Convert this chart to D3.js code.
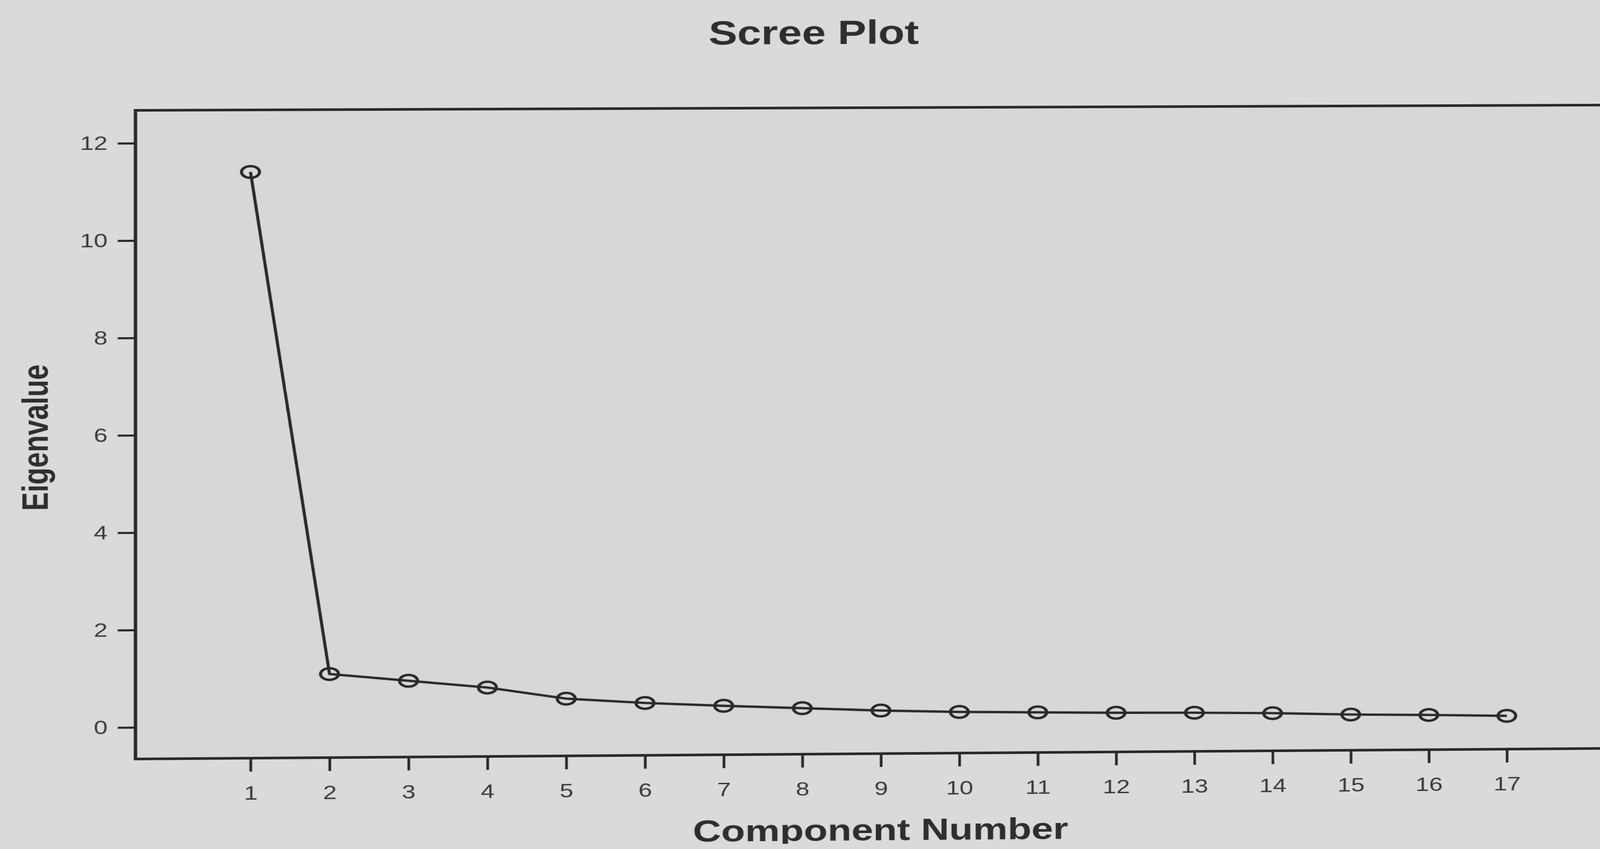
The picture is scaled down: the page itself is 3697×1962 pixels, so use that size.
<!DOCTYPE html>
<html>
<head>
<meta charset="utf-8">
<title>Scree Plot</title>
<script src="https://cdn.jsdelivr.net/npm/d3@7"></script>
<style>
    html, body {
        margin: 0;
        padding: 0;
        background: #dadada;
        overflow: hidden;
    }

    /* The source is a photo of a printout: stretched sideways and seen at a slight angle */
    #chart svg {
        display: block;
        transform-origin: 0 0;
        transform: translateX(313px) matrix3d(1, -0.00299, 0, 0.0000024, 0, 1, 0, 0, 0, 0, 1, 0, 0, 0, 0, 1) translateX(-313px) scaleX(1.3);
    }
</style>
</head>
<body>
<div id="chart"></div>
<script>

const components = [1, 2, 3, 4, 5, 6, 7, 8, 9, 10, 11, 12, 13, 14, 15, 16, 17];
const eigenvalues = [11.40, 1.07, 0.92, 0.77, 0.53, 0.43, 0.36, 0.30, 0.24, 0.20, 0.18, 0.16, 0.15, 0.13, 0.09, 0.07, 0.04];
const yTicks = [0, 2, 4, 6, 8, 10, 12];

const chartTitle = "Scree Plot";
const xTitle = "Component Number";
const yTitle = "Eigenvalue";

class ScreePlot {
    constructor() {
        // horizontal sizes are divided by the sideways stretch done in css
        this.stretch = 1.3;
        this.width = 3000;
        this.height = 1962;

        this.left = 313 / this.stretch;
        this.right = 3000;
        this.top = 255;
        this.bottom = 1754;

        this.ink = "#292929";
        this.font = "'Liberation Sans', Arial, Helvetica, sans-serif";

        this.x = d3.scaleLinear()
            .domain([1, 17])
            .range([579 / this.stretch, 3506 / this.stretch]);

        this.y = d3.scaleLinear()
            .domain([0, 12])
            .range([1681, 331]);
    }

    draw() {
        const that = this;

        const svg = d3.select("#chart")
            .append("svg")
            .attr("width", this.width)
            .attr("height", this.height);

        // Plot frame
        svg.append("rect")
            .attr("x", this.left)
            .attr("y", this.top)
            .attr("width", this.right - this.left)
            .attr("height", this.bottom - this.top)
            .attr("fill", "#d7d7d7")
            .attr("stroke", this.ink)
            .attr("stroke-width", 6);

        // X axis (ticks and labels only, the frame draws the line)
        const xAxis = svg.append("g")
            .attr("transform", `translate(0, ${this.bottom})`)
            .call(d3.axisBottom(this.x)
                .tickValues(components)
                .tickFormat(d3.format("d"))
                .tickSize(31)
                .tickSizeOuter(0)
                .tickPadding(34));

        // Y axis
        const yAxis = svg.append("g")
            .attr("transform", `translate(${this.left}, 0)`)
            .call(d3.axisLeft(this.y)
                .tickValues(yTicks)
                .tickFormat(d3.format("d"))
                .tickSize(31.5)
                .tickSizeOuter(0)
                .tickPadding(18));

        [xAxis, yAxis].forEach(axis => {
            axis.select(".domain").remove();
            axis.selectAll(".tick line")
                .attr("stroke", that.ink)
                .attr("stroke-width", 4.8);
            axis.selectAll(".tick text")
                .attr("fill", "#3a3a3a")
                .attr("font-family", that.font)
                .attr("font-size", 44);
        });

        const points = components.map((c, i) => ({ c: c, v: eigenvalues[i] }));

        // Line through the eigenvalues
        const line = d3.line()
            .x(d => this.x(d.c))
            .y(d => this.y(d.v));

        svg.append("path")
            .datum(points)
            .attr("d", line)
            .attr("fill", "none")
            .attr("stroke", this.ink)
            .attr("stroke-width", 5.5)
            .attr("stroke-linejoin", "round");

        // Open circle markers
        svg.append("g")
            .selectAll("ellipse")
            .data(points)
            .enter().append("ellipse")
            .attr("cx", d => this.x(d.c))
            .attr("cy", d => this.y(d.v))
            .attr("rx", 16)
            .attr("ry", 13.5)
            .attr("fill", "none")
            .attr("stroke", this.ink)
            .attr("stroke-width", 5.5);

        // Titles
        svg.append("text")
            .attr("x", 1451)
            .attr("y", 107)
            .attr("text-anchor", "middle")
            .attr("font-family", this.font)
            .attr("font-weight", "bold")
            .attr("font-size", 77)
            .attr("fill", "#2e2e2e")
            .text(chartTitle);

        svg.append("text")
            .attr("x", 1571)
            .attr("y", 1955)
            .attr("text-anchor", "middle")
            .attr("font-family", this.font)
            .attr("font-weight", "bold")
            .attr("font-size", 70)
            .attr("fill", "#2e2e2e")
            .text(xTitle);

        svg.append("text")
            .attr("transform", "translate(85, 1010) rotate(-90)")
            .attr("text-anchor", "middle")
            .attr("font-family", this.font)
            .attr("font-weight", "bold")
            .attr("font-size", 64)
            .attr("fill", "#2e2e2e")
            .text(yTitle);
    }
}

const plot = new ScreePlot();
plot.draw();

</script>
</body>
</html>
